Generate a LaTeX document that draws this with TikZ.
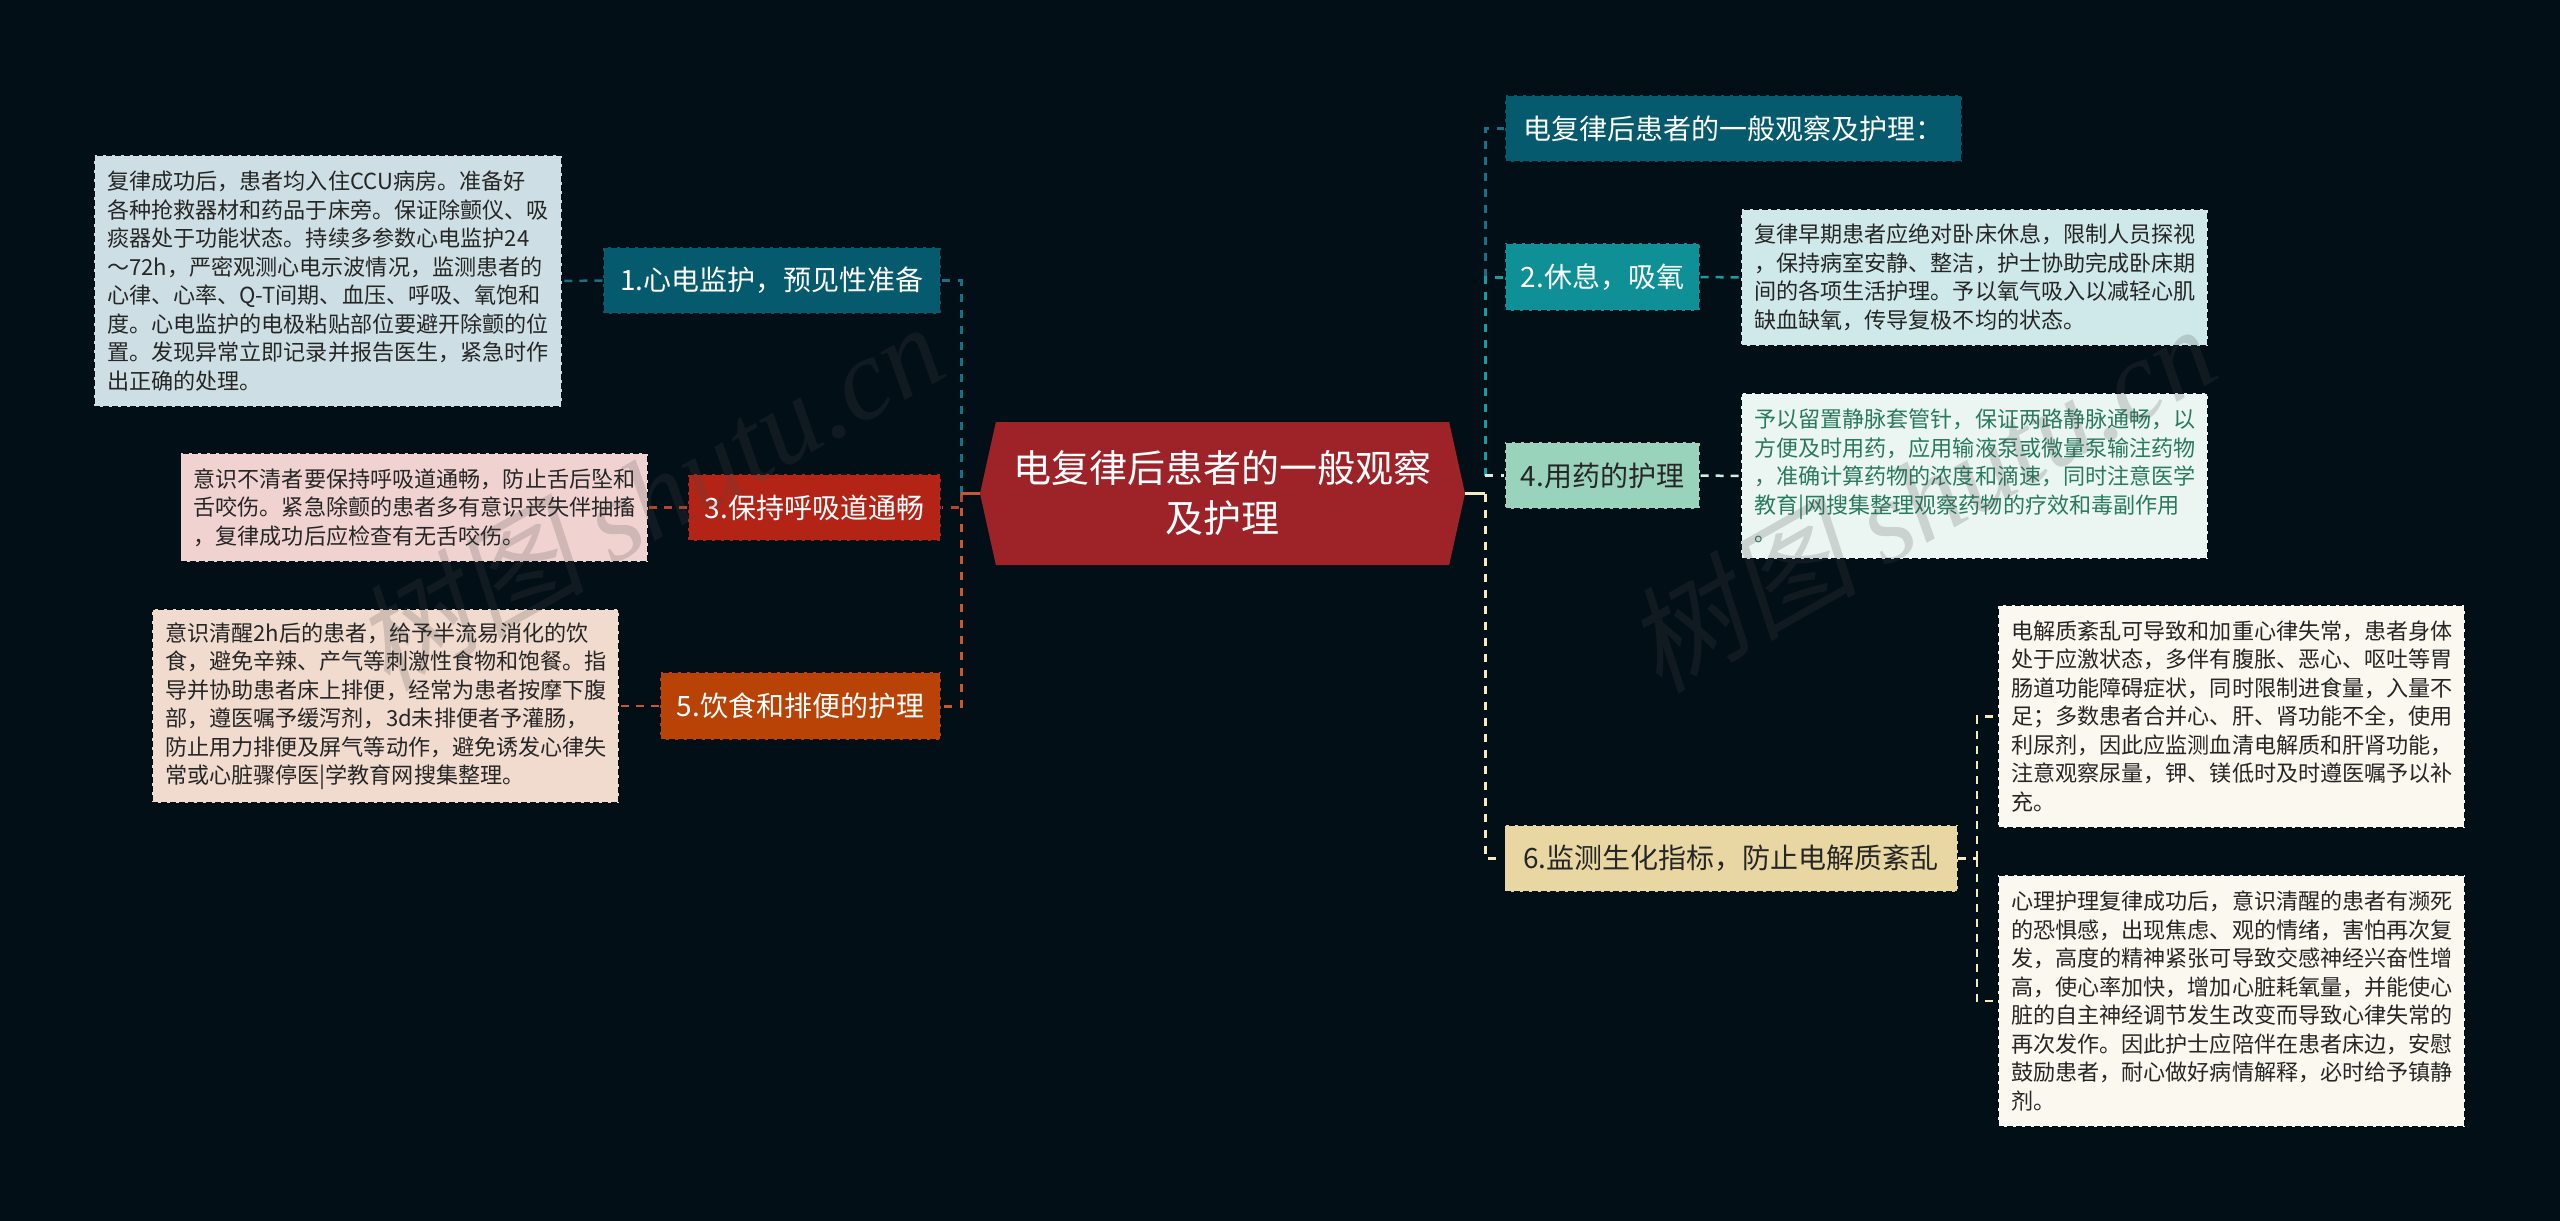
\documentclass[tikz,border=0pt]{standalone}
\usepackage{fontspec}
\usetikzlibrary{shapes.symbols}
\setmainfont{Noto Sans CJK SC}
\newfontfamily\wmcjk[FakeSlant=0.2]{Noto Sans CJK SC}
\newfontfamily\wmlat[ItalicFont={Liberation Serif Italic}]{Liberation Serif}
\definecolor{bgcol}{HTML}{020F17}
\definecolor{blueN}{HTML}{065A6E}
\definecolor{tealN}{HTML}{0F8F96}
\definecolor{redN}{HTML}{B32417}
\definecolor{orgN}{HTML}{B94306}
\definecolor{mintN}{HTML}{99D3BB}
\definecolor{sandN}{HTML}{E8D7A2}
\definecolor{rootN}{HTML}{9D2328}
\definecolor{blueB}{HTML}{CDDFE4}
\definecolor{tealB}{HTML}{CFE9EA}
\definecolor{redB}{HTML}{F0D3D1}
\definecolor{orgB}{HTML}{F1DACE}
\definecolor{mintB}{HTML}{EBF6F3}
\definecolor{sandB}{HTML}{FBF8EF}
\definecolor{blueL}{HTML}{1A6E85}
\definecolor{tealL}{HTML}{1A9BA2}
\definecolor{redL}{HTML}{B8452E}
\definecolor{orgL}{HTML}{C9572A}
\definecolor{mintL}{HTML}{CFEEE3}
\definecolor{sandL}{HTML}{F5E9BE}
\definecolor{ink}{HTML}{262626}
\definecolor{greenT}{HTML}{2A7A5F}
\definecolor{wmgray}{HTML}{484848}
\tikzset{
  edged/.style={draw=bgcol, line width=.6pt, dash pattern=on 3pt off 1.5pt, inner sep=0pt},
  branch/.style 2 args={edged, minimum width=#1*.5pt, minimum height=#2*.5pt, align=center,
    font=\fontsize{14pt}{18pt}\selectfont},
  leaf/.style 2 args={edged, minimum width=#1*.5pt, minimum height=#2*.5pt, align=left, text=ink,
    text width=#1*.5pt-13pt, font=\fontsize{11.05pt}{14.25pt}\selectfont},
  conn/.style={line width=1.5pt, dash pattern=on 4pt off 4pt},
  twig/.style={line width=1.25pt, dash pattern=on 4pt off 3.5pt},
  stub/.style={line width=1.5pt},
  wmark/.style={text=wmgray, text opacity=.2, rotate=29.5, inner sep=0pt}
}
\begin{document}
\begin{tikzpicture}[x=.5pt,y=-.5pt]
\useasboundingbox (0,0) rectangle (2560,1221);
\fill[bgcol] (0,0) rectangle (2560,1221);
% root
\node (root) [shape=signal, signal to=west and east, signal pointer angle=155, fill=rootN, inner sep=0pt,
  minimum width=242.5pt, minimum height=71.5pt, text=white, align=center,
  font=\fontsize{19pt}{25pt}\selectfont] at (1222.5,493.5) {电复律后患者的一般观察\\及护理};
% left branches
\node (n1) [branch={338}{67}, fill=blueN, text=white] at (772,280.5) {1.心电监护，预见性准备};
\node (n3) [branch={253}{67}, fill=redN, text=white] at (814.5,507.5) {3.保持呼吸道通畅};
\node (n5) [branch={281}{68}, fill=orgN, text=white] at (800.5,706) {5.饮食和排便的护理};
% right branches
\node (n0) [branch={457}{67}, fill=blueN, text=white] at (1733.5,128.5) {电复律后患者的一般观察及护理：};
\node (n2) [branch={195}{68}, fill=tealN, text=white] at (1602.5,277) {2.休息，吸氧};
\node (n4) [branch={195}{67}, fill=mintN, text=ink] at (1602.5,475.5) {4.用药的护理};
\node (n6) [branch={453}{67}, fill=sandN, text=ink] at (1731,858.5) {6.监测生化指标，防止电解质紊乱};
% leaves
\node (b1) [leaf={468}{252}, fill=blueB] at (328,281) {复律成功后，患者均入住CCU病房。准备好\\各种抢救器材和药品于床旁。保证除颤仪、吸\\痰器处于功能状态。持续多参数心电监护24\\～72h，严密观测心电示波情况，监测患者的\\心律、心率、Q-T间期、血压、呼吸、氧饱和\\度。心电监护的电极粘贴部位要避开除颤的位\\置。发现异常立即记录并报告医生，紧急时作\\出正确的处理。};
\node (b3) [leaf={467}{109}, fill=redB] at (414,507.5) {意识不清者要保持呼吸道通畅，防止舌后坠和\\舌咬伤。紧急除颤的患者多有意识丧失伴抽搐\\，复律成功后应检查有无舌咬伤。};
\node (b5) [leaf={467}{194}, fill=orgB] at (385.5,706) {意识清醒2h后的患者，给予半流易消化的饮\\食，避免辛辣、产气等刺激性食物和饱餐。指\\导并协助患者床上排便，经常为患者按摩下腹\\部，遵医嘱予缓泻剂，3d未排便者予灌肠，\\防止用力排便及屏气等动作，避免诱发心律失\\常或心脏骤停医|学教育网搜集整理。};
\node (b2) [leaf={467}{137}, fill=tealB] at (1974.5,277.5) {复律早期患者应绝对卧床休息，限制人员探视\\，保持病室安静、整洁，护士协助完成卧床期\\间的各项生活护理。予以氧气吸入以减轻心肌\\缺血缺氧，传导复极不均的状态。};
\node (b4) [leaf={467}{166}, fill=mintB, text=greenT] at (1974.5,476) {予以留置静脉套管针，保证两路静脉通畅，以\\方便及时用药，应用输液泵或微量泵输注药物\\，准确计算药物的浓度和滴速，同时注意医学\\教育|网搜集整理观察药物的疗效和毒副作用\\。};
\node (b6a) [leaf={467}{223}, fill=sandB] at (2231.5,716.5) {电解质紊乱可导致和加重心律失常，患者身体\\处于应激状态，多伴有腹胀、恶心、呕吐等胃\\肠道功能障碍症状，同时限制进食量，入量不\\足；多数患者合并心、肝、肾功能不全，使用\\利尿剂，因此应监测血清电解质和肝肾功能，\\注意观察尿量，钾、镁低时及时遵医嘱予以补\\充。};
\node (b6b) [leaf={467}{252}, fill=sandB] at (2231.5,1001) {心理护理复律成功后，意识清醒的患者有濒死\\的恐惧感，出现焦虑、观的情绪，害怕再次复\\发，高度的精神紧张可导致交感神经兴奋性增\\高，使心率加快，增加心脏耗氧量，并能使心\\脏的自主神经调节发生改变而导致心律失常的\\再次发作。因此护士应陪伴在患者床边，安慰\\鼓励患者，耐心做好病情解释，必时给予镇静\\剂。};
% junctions
\coordinate (jl) at (961,493.5);
\coordinate (jr) at (1485,493.5);
\coordinate (js) at (1977,858.5);
% left trunk
\draw[conn, blueL] (jl) -- (jl |- n1.east) -- (n1.east);
\draw[conn, redL] (jl) -- (jl |- n3.east) -- (n3.east);
\draw[conn, orgL] (jl |- n3.east) -- (jl |- n5.east) -- (n5.east);
\draw[stub, orgL] (root.west) -- (jl);
% right trunk
\draw[conn, blueL] (jr |- n2.west) -- (jr |- n0.west) -- (n0.west);
\draw[conn, tealL] (jr |- n4.west) -- (jr |- n2.west) -- (n2.west);
\draw[conn, mintL] (jr |- n4.west) -- (n4.west);
\draw[conn, sandL] (jr) -- (jr |- n6.west) -- (n6.west);
\draw[stub, sandL] (root.east) -- (jr);
% twigs
\draw[twig, blueL] (n1.west) -- (b1.east);
\draw[twig, redL] (n3.west) -- (b3.east);
\draw[twig, orgL] (n5.west) -- (b5.east);
\draw[twig, tealL] (n2.east) -- (b2.west);
\draw[twig, mintL] (n4.east) -- (b4.west);
\draw[twig, sandL] (n6.east) -- (js);
\draw[twig, sandL] (js) -- (js |- b6a.west) -- (b6a.west);
\draw[twig, sandL] (js) -- (js |- b6b.west) -- (b6b.west);
% watermark
\node (wm1) [wmark] at (648,495) {\fontsize{58pt}{66pt}\selectfont{\wmcjk 树图} {\wmlat\itshape shutu.cn}};
\node (wm2) [wmark] at (1920,497) {\fontsize{58pt}{66pt}\selectfont{\wmcjk 树图} {\wmlat\itshape shutu.cn}};
\end{tikzpicture}
\end{document}
